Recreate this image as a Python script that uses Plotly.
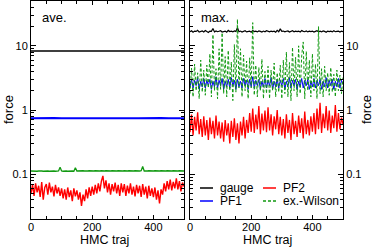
import plotly.graph_objects as go

# ---------------- data ----------------
traj = list(range(0, 501, 5))          # 101 trajectories sampled
traj_c = list(range(0, 501, 25))       # coarse sampling for flat series

ave_gauge = [8.30, 8.32, 8.28, 8.31, 8.29, 8.30, 8.33, 8.27, 8.30, 8.31, 8.29,
             8.30, 8.32, 8.28, 8.30, 8.31, 8.29, 8.30, 8.32, 8.29, 8.30]
ave_pf1 = [0.745, 0.750, 0.740, 0.748, 0.743, 0.752, 0.741, 0.747, 0.750, 0.744, 0.749,
           0.742, 0.751, 0.746, 0.743, 0.750, 0.745, 0.748, 0.742, 0.749, 0.746]
ave_pf2 = [0.050, 0.068, 0.046, 0.072, 0.052, 0.066, 0.044, 0.075, 0.040, 0.062,
           0.070, 0.048, 0.074, 0.052, 0.064, 0.045, 0.068, 0.050, 0.062, 0.046,
           0.060, 0.042, 0.058, 0.040, 0.062, 0.044, 0.056, 0.038, 0.060, 0.045,
           0.056, 0.040, 0.052, 0.032, 0.048, 0.038, 0.058, 0.042, 0.062, 0.046,
           0.064, 0.048, 0.068, 0.050, 0.072, 0.054, 0.078, 0.094, 0.060, 0.080,
           0.052, 0.072, 0.048, 0.070, 0.054, 0.074, 0.050, 0.068, 0.046, 0.072,
           0.052, 0.070, 0.046, 0.066, 0.050, 0.072, 0.048, 0.064, 0.045, 0.068,
           0.050, 0.066, 0.044, 0.070, 0.048, 0.064, 0.042, 0.066, 0.046, 0.060,
           0.044, 0.062, 0.040, 0.056, 0.035, 0.058, 0.048, 0.072, 0.054, 0.078,
           0.058, 0.082, 0.056, 0.076, 0.060, 0.086, 0.058, 0.078, 0.054, 0.074,
           0.064]
ave_exw = [0.112, 0.111, 0.113, 0.112, 0.111, 0.112, 0.113, 0.112, 0.111, 0.112,
           0.113, 0.112, 0.111, 0.112, 0.113, 0.112, 0.111, 0.113, 0.112, 0.128,
           0.112, 0.111, 0.113, 0.112, 0.111, 0.112, 0.113, 0.112, 0.111, 0.126,
           0.112, 0.113, 0.111, 0.112, 0.113, 0.112, 0.111, 0.112, 0.113, 0.112,
           0.111, 0.112, 0.113, 0.112, 0.111, 0.112, 0.113, 0.111, 0.112, 0.113,
           0.112, 0.111, 0.112, 0.113, 0.112, 0.111, 0.112, 0.113, 0.112, 0.111,
           0.112, 0.113, 0.111, 0.112, 0.113, 0.112, 0.111, 0.112, 0.113, 0.112,
           0.111, 0.112, 0.113, 0.132, 0.112, 0.111, 0.112, 0.113, 0.112, 0.111,
           0.112, 0.113, 0.112, 0.111, 0.112, 0.113, 0.112, 0.111, 0.112, 0.113,
           0.112, 0.111, 0.112, 0.113, 0.112, 0.111, 0.112, 0.113, 0.112, 0.111,
           0.112]

max_gauge = [16.6, 17.2, 16.3, 17.0, 16.8, 17.5, 16.4, 16.9, 17.1, 16.5,
             17.3, 16.7, 16.2, 17.0, 16.8, 18.6, 16.5, 17.1, 16.6, 16.9,
             17.2, 16.4, 16.8, 17.0, 16.3, 17.4, 16.7, 16.9, 16.5, 17.1,
             16.8, 19.2, 16.6, 17.0, 16.4, 16.9, 17.2, 16.5, 16.8, 17.0,
             16.3, 17.3, 16.7, 16.9, 16.5, 17.1, 16.8, 16.4, 17.0, 16.6,
             17.2, 16.8, 16.5, 17.0, 16.7, 16.9, 16.3, 17.4, 16.6, 18.4,
             16.8, 17.0, 16.5, 16.9, 17.1, 16.4, 16.8, 17.2, 16.6, 16.9,
             16.7, 17.0, 16.4, 17.3, 16.8, 16.6, 17.1, 16.5, 16.9, 16.7,
             17.0, 16.4, 16.8, 17.2, 16.6, 16.9, 16.5, 17.1, 16.8, 16.3,
             17.0, 16.7, 16.9, 16.5, 17.2, 16.6, 16.8, 17.0, 16.4, 16.9,
             16.7]
max_pf1 = [2.3, 3.0, 2.2, 2.9, 2.4, 3.2, 2.1, 2.8, 2.3, 3.1, 2.2, 2.9, 2.4, 3.0, 2.1, 2.8, 2.3, 3.3, 2.2, 2.9,
           2.4, 3.1, 2.1, 2.8, 2.3, 3.0, 2.2, 3.2, 2.4, 2.9, 2.1, 3.0, 2.3, 2.8, 2.2, 3.1, 2.4, 2.9, 2.1, 3.0,
           2.3, 3.3, 2.2, 2.9, 2.4, 3.0, 2.1, 2.8, 2.3, 3.1, 2.2, 2.9, 2.4, 3.2, 2.1, 2.8, 2.3, 3.0, 2.2, 2.9,
           2.4, 3.1, 2.1, 2.8, 2.3, 3.2, 2.2, 2.9, 2.4, 3.0, 2.1, 2.8, 2.3, 3.1, 2.2, 2.9, 2.4, 3.0, 2.1, 2.8,
           2.3, 3.1, 2.2, 2.9, 2.4, 3.0, 2.1, 2.8, 2.3, 3.2, 2.2, 2.9, 2.4, 3.0, 2.1, 2.8, 2.3, 3.1, 2.2, 2.9,
           2.5]
max_pf2 = [0.45, 0.85, 0.40, 0.78, 0.48, 0.92, 0.42, 0.72, 0.38, 0.80,
           0.40, 0.70, 0.34, 0.76, 0.42, 0.68, 0.36, 0.82, 0.40, 0.66,
           0.36, 0.64, 0.32, 0.70, 0.40, 0.62, 0.30, 0.68, 0.38, 0.74,
           0.34, 0.62, 0.30, 0.66, 0.40, 0.78, 0.36, 0.70, 0.44, 0.90,
           0.46, 1.05, 0.44, 0.85, 0.50, 1.15, 0.42, 0.88, 0.48, 0.98,
           0.45, 1.10, 0.48, 0.86, 0.40, 0.80, 0.50, 1.00, 0.42, 0.78,
           0.40, 0.72, 0.36, 0.86, 0.44, 0.70, 0.34, 0.90, 0.42, 0.68,
           0.38, 0.82, 0.44, 0.74, 0.36, 0.95, 0.42, 0.70, 0.40, 0.80,
           0.46, 0.90, 0.42, 1.05, 0.50, 1.30, 0.44, 0.88, 0.52, 1.15,
           0.48, 0.98, 0.44, 0.82, 0.52, 1.20, 0.46, 0.90, 0.50, 0.76,
           0.60]
max_exw = [1.8, 4.5, 1.6, 5.2, 2.0, 3.8, 1.5, 6.0, 1.9, 4.2,
           1.7, 5.0, 2.2, 7.5, 1.6, 15.0, 2.0, 4.4, 1.5, 9.0,
           2.1, 16.0, 1.8, 6.8, 1.6, 8.5, 2.0, 5.6, 1.4, 10.5,
           1.9, 26.0, 2.2, 9.0, 1.6, 7.2, 2.0, 5.8, 1.5, 6.5,
           2.2, 23.0, 1.7, 5.0, 1.6, 4.6, 2.0, 6.2, 1.5, 4.0,
           1.8, 4.8, 1.5, 4.2, 2.0, 5.4, 1.6, 3.8, 1.9, 5.0,
           1.5, 6.0, 1.8, 8.0, 1.6, 5.5, 1.4, 9.5, 2.0, 6.6,
           1.6, 10.0, 1.8, 7.0, 11.5, 1.5, 8.2, 2.0, 6.0, 1.6,
           7.5, 2.0, 5.2, 1.5, 20.0, 1.8, 4.4, 1.6, 4.8, 2.0,
           3.8, 1.7, 4.6, 1.9, 3.6, 1.6, 4.2, 2.0, 3.5, 1.8,
           3.2]

y_ticks = [0.1, 1, 10]
y_ticktext = ["0.1", "1", "10"]
y_minor = [0.02, 0.03, 0.04, 0.05, 0.06, 0.07, 0.08, 0.09,
           0.2, 0.3, 0.4, 0.5, 0.6, 0.7, 0.8, 0.9,
           2, 3, 4, 5, 6, 7, 8, 9, 20, 30, 40, 50]
x_ticks = [0, 200, 400]

names = ["gauge", "PF1", "PF2", "ex.-Wilson"]
colors = ["#000000", "#0000ff", "#ff0000", "#119911"]
dashes = ["solid", "solid", "solid", "3px,2px"]

FONT = "Liberation Sans, Arial, Helvetica, sans-serif"

fig = go.Figure()
# left: averages
fig.add_trace(go.Scatter(x=traj_c, y=ave_gauge, mode="lines", line=dict(color=colors[0], width=1.6),
                         showlegend=False, xaxis="x", yaxis="y"))
fig.add_trace(go.Scatter(x=traj_c, y=ave_pf1, mode="lines", line=dict(color=colors[1], width=2),
                         showlegend=False, xaxis="x", yaxis="y"))
fig.add_trace(go.Scatter(x=traj, y=ave_pf2, mode="lines", line=dict(color=colors[2], width=1.4),
                         showlegend=False, xaxis="x", yaxis="y"))
fig.add_trace(go.Scatter(x=traj, y=ave_exw, mode="lines", line=dict(color=colors[3], width=1.3),
                         showlegend=False, xaxis="x", yaxis="y"))
# right: maxima
fig.add_trace(go.Scatter(x=traj, y=max_gauge, mode="lines", line=dict(color=colors[0], width=1.2),
                         showlegend=False, xaxis="x2", yaxis="y2"))
fig.add_trace(go.Scatter(x=traj, y=max_pf1, mode="lines", line=dict(color=colors[1], width=1),
                         showlegend=False, xaxis="x2", yaxis="y2"))
fig.add_trace(go.Scatter(x=traj, y=max_pf2, mode="lines", line=dict(color=colors[2], width=1.3),
                         showlegend=False, xaxis="x2", yaxis="y2"))
fig.add_trace(go.Scatter(x=traj, y=max_exw, mode="lines", line=dict(color=colors[3], width=1, dash=dashes[3]),
                         showlegend=False, xaxis="x2", yaxis="y2"))

W, H = 374, 248
xl = (31, 184)
xr = (190, 343)
ytop, ybot = 1, 219

def px(x):
    return x / W

def py(y):
    return 1 - y / H

common_x = dict(range=[0, 500], tickvals=x_ticks, ticks="inside", ticklen=4, tickcolor="#000",
                showline=True, linecolor="#000", linewidth=1, mirror="ticks", showgrid=False,
                zeroline=False, tickfont=dict(size=11, family=FONT, color="#000"),
                ticklabelstandoff=-2,
                minor=dict(dtick=50, ticks="inside", ticklen=3, tickcolor="#000", showgrid=False),
                automargin=False)
common_y = dict(type="log", range=[-1.699, 1.699], tickvals=y_ticks, ticktext=y_ticktext,
                ticks="inside", ticklen=5, tickcolor="#000", showline=True, linecolor="#000",
                linewidth=1, mirror="ticks", showgrid=False, zeroline=False,
                tickfont=dict(size=11, family=FONT, color="#000"),
                minor=dict(tickvals=y_minor, ticks="inside", ticklen=3, tickcolor="#000", showgrid=False),
                domain=[py(ybot), py(ytop)], automargin=False)

fig.update_layout(
    width=W, height=H, margin=dict(l=0, r=0, t=0, b=0),
    paper_bgcolor="white", plot_bgcolor="white",
    font=dict(family=FONT, color="#000"),
    xaxis=dict(common_x, domain=[px(xl[0]), px(xl[1])], anchor="y"),
    yaxis=dict(common_y, anchor="x", side="left"),
    xaxis2=dict(common_x, domain=[px(xr[0]), px(xr[1])], anchor="y2"),
    yaxis2=dict(common_y, anchor="x2", side="right"),
    showlegend=False,
)

tfont = dict(size=13, family=FONT, color="#000")
xtfont = dict(size=12.5, family=FONT, color="#000")
annotations = [
    dict(text="ave.", x=px(40), y=py(17), xref="paper", yref="paper", xanchor="left",
         yanchor="middle", showarrow=False, font=tfont),
    dict(text="max.", x=px(199), y=py(17), xref="paper", yref="paper", xanchor="left",
         yanchor="middle", showarrow=False, font=tfont),
    # axis titles
    dict(text="HMC traj", x=px(104), y=py(240), xref="paper", yref="paper", xanchor="center",
         yanchor="middle", showarrow=False, font=xtfont, borderpad=0),
    dict(text="HMC traj", x=px(267), y=py(240), xref="paper", yref="paper", xanchor="center",
         yanchor="middle", showarrow=False, font=xtfont, borderpad=0),
    dict(text="force", x=px(8), y=py(110), xref="paper", yref="paper", xanchor="center",
         yanchor="middle", textangle=-90, showarrow=False, font=tfont),
    dict(text="force", x=px(366), y=py(110), xref="paper", yref="paper", xanchor="center",
         yanchor="middle", textangle=-90, showarrow=False, font=tfont),
]
shapes = []
# custom legend (two columns) inside right panel
leg_pos = [(200, 188), (200, 201), (263, 188), (263, 201)]
for name, col, dash, (lx, ly) in zip(names, colors, dashes, leg_pos):
    shapes.append(dict(type="line", xref="paper", yref="paper", x0=px(lx), x1=px(lx + 13),
                       y0=py(ly), y1=py(ly), line=dict(color=col, width=1.5, dash=dash)))
    annotations.append(dict(text=name, x=px(lx + 18), y=py(ly), xref="paper", yref="paper",
                            xanchor="left", yanchor="middle", showarrow=False,
                            font=dict(size=12, family=FONT, color="#000")))
fig.update_layout(annotations=annotations, shapes=shapes)

fig.write_html("out.html", config={"displayModeBar": False},
               post_script="document.body.style.margin='0px';document.body.style.padding='0px';")
